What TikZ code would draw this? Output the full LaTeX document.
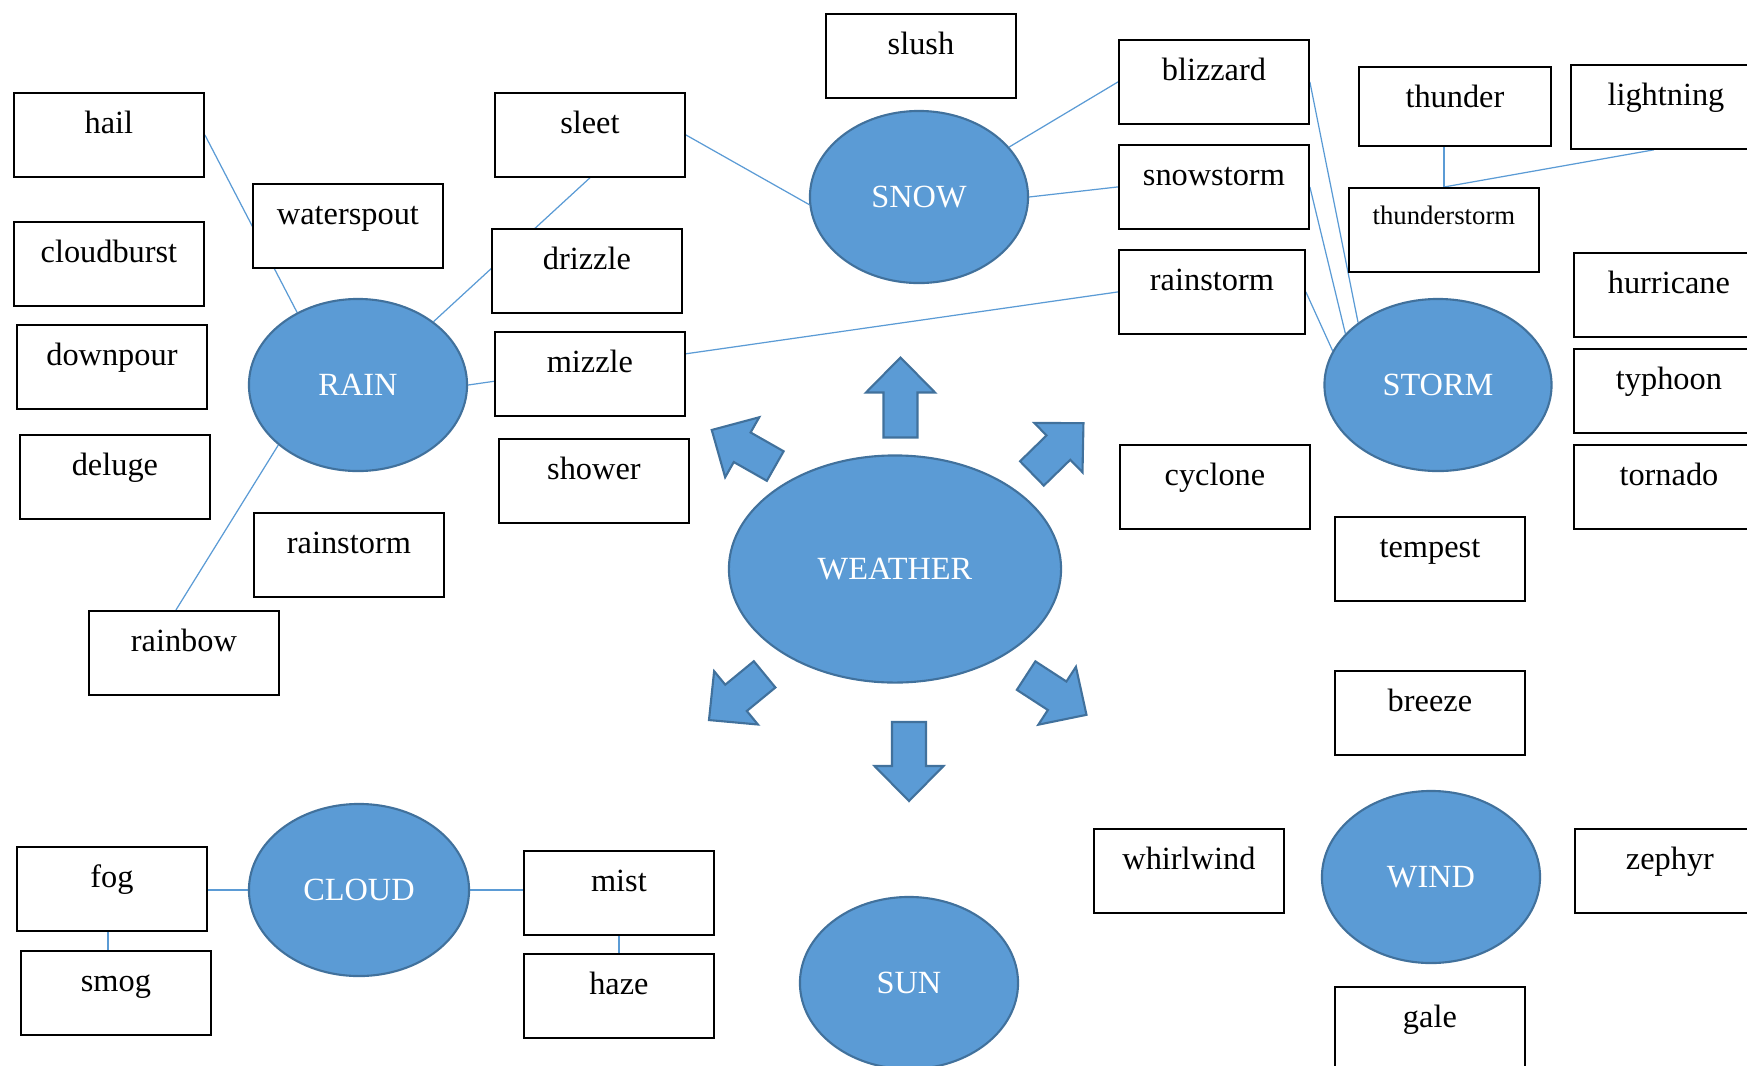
\documentclass[tikz,border=0pt]{standalone}
\usepackage{fontspec}
\setmainfont{Liberation Serif}
\usetikzlibrary{shapes.geometric,backgrounds}
\definecolor{wxblue}{HTML}{5B9BD5}
\definecolor{wxedge}{HTML}{41719C}
\tikzset{
  word/.style={draw=black, line width=0.5pt, fill=white, rectangle, anchor=north west, inner sep=0pt, minimum width=1.9cm, text height=0.41cm, text depth=0.43cm, font=\fontsize{9.2}{11}\selectfont},
  topic/.style={ellipse, draw=wxedge, line width=0.6pt, fill=wxblue, text=white, inner sep=0pt, minimum width=2.18cm, minimum height=1.72cm, font=\fontsize{9.2}{11}\selectfont},
  link/.style={draw=wxblue, line width=0.35pt},
  pointer/.style={draw=wxedge, line width=0.6pt, fill=wxblue, line join=miter},
}
\newcommand{\wxarrow}[3]{%
  \draw[pointer, shift={#1}, rotate=#2] ({-#3/2},-17) -- ({#3/2-35},-17) -- ({#3/2-35},-34.5) -- ({#3/2},0) -- ({#3/2-35},34.5) -- ({#3/2-35},17) -- ({-#3/2},17) -- cycle;}
\begin{document}
\begin{tikzpicture}[x=0.01cm, y=-0.01cm]
        \useasboundingbox (0,0) rectangle (1747,1066);
        \clip (0,0) rectangle (1747,1066);
        \node[word] (hail) at (13,92) {hail};
        \node[word] (cloudburst) at (13,221) {cloudburst};
        \node[word] (downpour) at (16,324) {downpour};
        \node[word] (deluge) at (19,434) {deluge};
        \node[word] (waterspout) at (252,183) {waterspout};
        \node[word] (rainstorm1) at (253,512) {rainstorm};
        \node[word] (rainbow) at (88,610) {rainbow};
        \node[word] (sleet) at (494,92) {sleet};
        \node[word] (drizzle) at (491,228) {drizzle};
        \node[word] (mizzle) at (494,331) {mizzle};
        \node[word] (shower) at (498,438) {shower};
        \node[word] (slush) at (825,13) {slush};
        \node[word] (blizzard) at (1118,39) {blizzard};
        \node[word] (snowstorm) at (1118,144) {snowstorm};
        \node[word, minimum width=1.86cm] (rainstorm2) at (1118,249) {rainstorm};
        \node[word, minimum width=1.92cm, text depth=0.38cm] (thunder) at (1358,66) {thunder};
        \node[word] (lightning) at (1570,64) {lightning};
        \node[word, font=\fontsize{7.6}{9}\selectfont, text height=0.365cm, text depth=0.475cm] (thunderstorm) at (1348,187) {thunderstorm};
        \node[word] (hurricane) at (1573,252) {hurricane};
        \node[word] (typhoon) at (1573,348) {typhoon};
        \node[word] (tornado) at (1573,444) {tornado};
        \node[word] (cyclone) at (1119,444) {cyclone};
        \node[word] (tempest) at (1334,516) {tempest};
        \node[word] (breeze) at (1334,670) {breeze};
        \node[word] (whirlwind) at (1093,828) {whirlwind};
        \node[word] (zephyr) at (1574,828) {zephyr};
        \node[word] (gale) at (1334,986) {gale};
        \node[word] (fog) at (16,846) {fog};
        \node[word] (smog) at (20,950) {smog};
        \node[word] (mist) at (523,850) {mist};
        \node[word] (haze) at (523,953) {haze};
        \node[topic] (rain) at (358,385) {RAIN};
        \node[topic] (snow) at (919,197) {SNOW};
        \node[topic, minimum width=2.27cm] (storm) at (1438,385) {STORM};
        \node[topic, minimum width=3.32cm, minimum height=2.27cm] (weather) at (895,569) {WEATHER};
        \node[topic, minimum width=2.2cm] (cloud) at (359,890) {CLOUD};
        \node[topic] (sun) at (909,983) {SUN};
        \node[topic] (wind) at (1431,877) {WIND};
        \wxarrow{(900.5,397.5)}{90}{80}
        \wxarrow{(909,761.5)}{-90}{79}
        \wxarrow{(743.5,448)}{150.4}{73}
        \wxarrow{(1057.7,448.3)}{44.3}{72}
        \wxarrow{(736.8,697.2)}{219.4}{72}
        \wxarrow{(1056.3,695.2)}{-33}{72}
        \begin{pgfonlayer}{background}
        \draw[link] (hail.east) -- (rain.130);
        \draw[link] (sleet.south) -- (rain.40);
        \draw[link] (rain.east) -- (rainstorm2.west);
        \draw[link] (sleet.east) -- (snow.184);
        \draw[link] (snow.29) -- (blizzard.west);
        \draw[link] (snow.east) -- (snowstorm.west);
        \draw[link] (blizzard.east) -- (storm.142);
        \draw[link] (snowstorm.east) -- (storm.151);
        \draw[link] (rainstorm2.east) -- (storm.162);
        \draw[link] (thunderstorm.north) -- (thunderstorm.north |- thunder.south);
        \draw[link] ([xshift=-0.12cm]lightning.south) -- (thunderstorm.north);
        \draw[link] (rain.217) -- ([xshift=-0.08cm]rainbow.north);
        \draw[link] (cloud.west) -- (cloud.west -| fog.east);
        \draw[link] (cloud.east) -- (cloud.east -| mist.west);
        \draw[link] ([xshift=-0.04cm]fog.south) -- ([xshift=-0.04cm]fog.south |- smog.north);
        \draw[link] (mist.south) -- (mist.south |- haze.north);
        \end{pgfonlayer}
    \end{tikzpicture}
\end{document}
